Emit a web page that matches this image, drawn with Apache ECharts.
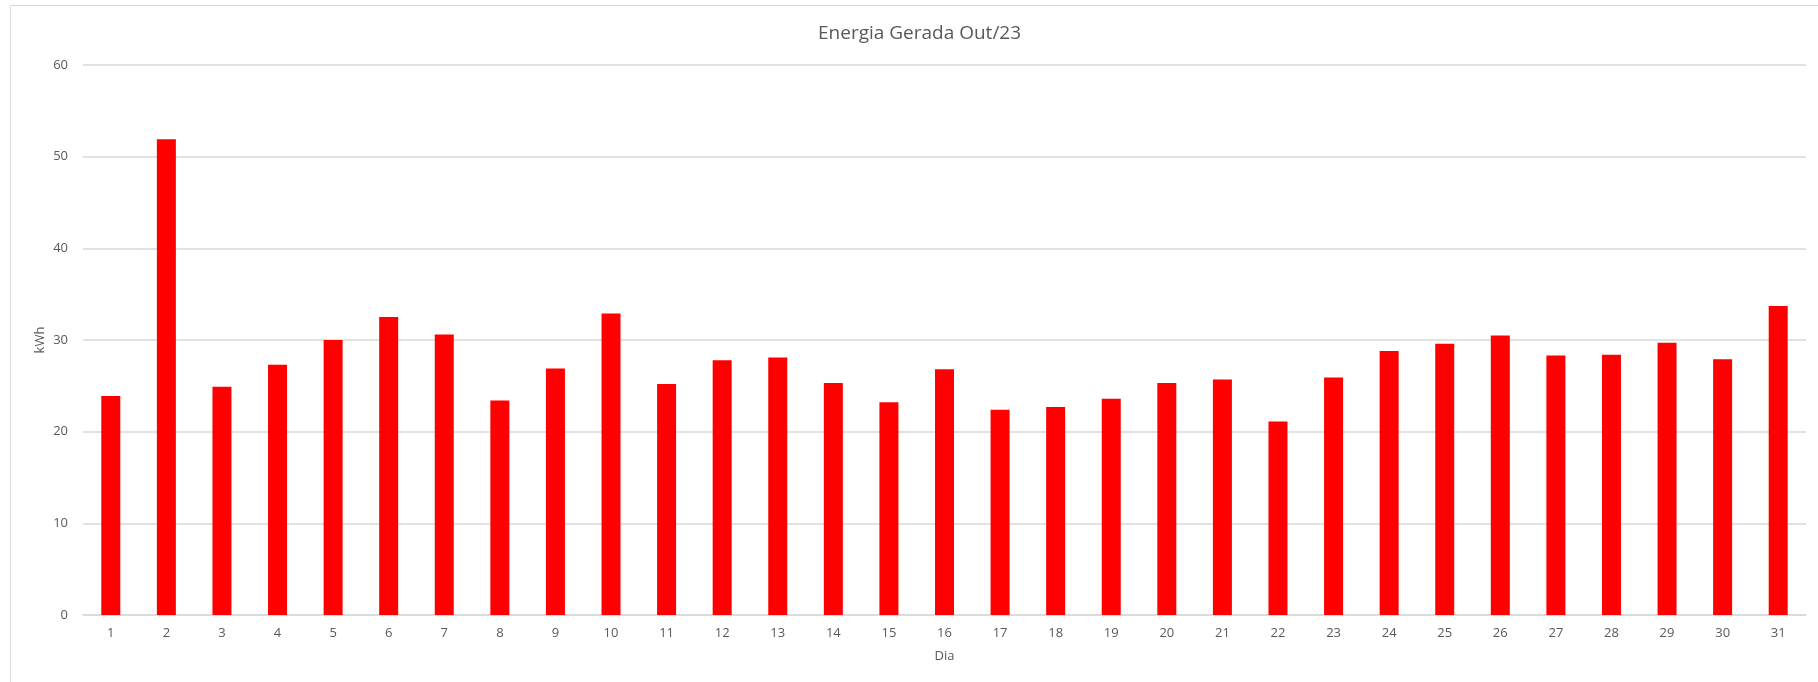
<!DOCTYPE html>
<html>
<head>
<meta charset="utf-8">
<script src="https://cdn.jsdelivr.net/npm/echarts@6/dist/echarts.min.js"></script>
<style>
  html, body { margin: 0; padding: 0; background: #fff; }
  #chart { width: 1818px; height: 682px; }
</style>
</head>
<body>
<div id="chart"></div>
<script>
// dias do mes (Out/23)
var dias = ["1","2","3","4","5","6","7","8","9","10","11","12","13","14","15","16",
            "17","18","19","20","21","22","23","24","25","26","27","28","29","30","31"];

// energia gerada por dia, kWh
var energia = [23.9, 51.9, 24.9, 27.3, 30.0, 32.5, 30.6, 23.4, 26.9, 32.9, 25.2,
               27.8, 28.1, 25.3, 23.2, 26.8, 22.4, 22.7, 23.6, 25.3, 25.7,
               21.1, 25.9, 28.8, 29.6, 30.5, 28.3, 28.4, 29.7, 27.9, 33.7];

var corTexto = "#595959";
var corGrade = "#d9d9d9";
var fonte = "'Open Sans', 'Noto Sans', sans-serif";

var grafico = echarts.init(document.getElementById("chart"));

var opcoes = {
  animation: false,
  backgroundColor: "#fff",
  graphic: [{
    type: "rect",
    shape: { x: 10.5, y: 5.5, width: 1830, height: 700 },
    style: { fill: "none", stroke: corGrade, lineWidth: 1 },
    silent: true
  }],
  title: {
    text: "Energia Gerada Out/23",
    left: 813,
    top: 19,
    textStyle: { color: corTexto, fontFamily: fonte, fontSize: 19, fontWeight: "normal" }
  },
  grid: { left: 83, right: 12, top: 65, bottom: 67 },
  xAxis: {
    type: "category",
    data: dias,
    name: "Dia",
    nameLocation: "middle",
    nameGap: 35,
    nameMoveOverlap: false,
    nameTextStyle: { color: corTexto, fontFamily: fonte, fontSize: 13 },
    axisLine: { lineStyle: { color: corGrade, width: 1.5 } },
    axisTick: { show: false },
    axisLabel: { color: corTexto, fontFamily: fonte, fontSize: 13, margin: 12 }
  },
  yAxis: {
    type: "value",
    min: 0,
    max: 60,
    interval: 10,
    name: "kWh",
    nameLocation: "middle",
    nameGap: 36,
    nameMoveOverlap: false,
    nameRotate: 90,
    nameTextStyle: { color: corTexto, fontFamily: fonte, fontSize: 13 },
    axisLine: { show: false },
    axisTick: { show: false },
    axisLabel: { color: corTexto, fontFamily: fonte, fontSize: 13, margin: 15 },
    splitLine: { lineStyle: { color: corGrade, width: 1.5 } }
  },
  series: [{
    type: "bar",
    data: energia,
    barWidth: 19,
    itemStyle: { color: "#ff0000" }
  }]
};

grafico.setOption(opcoes);
</script>
</body>
</html>
